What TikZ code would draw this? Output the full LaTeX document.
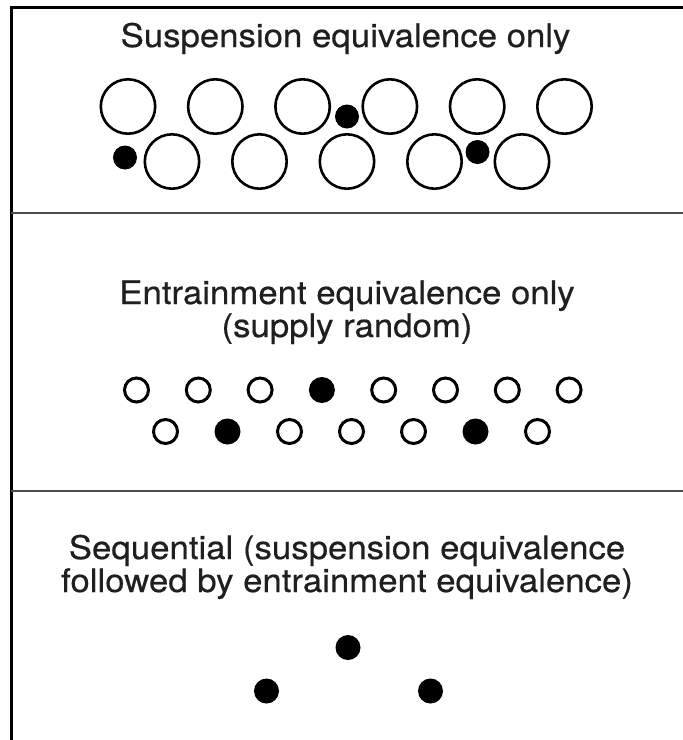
\documentclass[tikz,border=0pt]{standalone}
\usepackage{fontspec}
\setmainfont{TeX Gyre Heros}[FakeBold=0.4]
\begin{document}
\begin{tikzpicture}[x=1pt,y=-1pt,
  bigc/.style={circle,draw=black,line width=2.6pt,minimum size=54.4pt,inner sep=0pt},
  smallc/.style={circle,draw=black,line width=3pt,minimum size=24pt,inner sep=0pt},
  dotc/.style={circle,fill=black,minimum size=#1,inner sep=0pt},
  title/.style={font=\fontsize{32.5}{38}\selectfont,anchor=base,inner sep=0pt,text=black!88},
  frameline/.style={line width=3pt,black},
  divider/.style={line width=2pt,black!70}]
\useasboundingbox (0,0) rectangle (683,740);
\fill[white] (0,0) rectangle (683,740);
% frame
\draw[frameline] (683,7) -- (11,7) -- (11,740);
\draw[divider] (11,213) -- (683,213);
\draw[divider] (11,491) -- (683,491);
% titles
\newcommand{\stretchtxt}[1]{\scalebox{1.07}[1]{#1}}
\node[title] (t1) at (345.5,47) {\stretchtxt{Suspension equivalence only}};
\node[title] (t2a) at (347,304) {\stretchtxt{Entrainment equivalence only}};
\node[title] (t2b) at (347,337) {\stretchtxt{(supply random)}};
\node[title] (t3a) at (347,559) {\stretchtxt{Sequential (suspension equivalence}};
\node[title] (t3b) at (347,592) {\stretchtxt{followed by entrainment equivalence)}};
% suspension section
\foreach \i in {0,...,5} \node[bigc] (sa\i) at ({128+87.3*\i},106.5) {};
\foreach \i in {0,...,4} \node[bigc] (sb\i) at ({172+87.5*\i},161.5) {};
\node[dotc=24pt] (sd1) at (125,157.5) {};
\node[dotc=24pt] (sd2) at (347,116.5) {};
\node[dotc=24pt] (sd3) at (477.5,152) {};
% entrainment section
\foreach \i in {0,1,2,4,5,6,7} \node[smallc] (ea\i) at ({136.5+61.8*\i},390) {};
\node[dotc=26pt] (ea3) at ({136.5+61.8*3},390) {};
\foreach \i in {0,2,3,4,6} \node[smallc] (eb\i) at ({165.5+62*\i},431.5) {};
\node[dotc=26pt] (eb1) at ({165.5+62*1},431.5) {};
\node[dotc=26pt] (eb5) at ({165.5+62*5},431.5) {};
% sequential section
\node[dotc=25pt] (q1) at (348,647.5) {};
\node[dotc=25pt] (q2) at (266.5,691) {};
\node[dotc=25pt] (q3) at (430.5,691) {};
\end{tikzpicture}
\end{document}
